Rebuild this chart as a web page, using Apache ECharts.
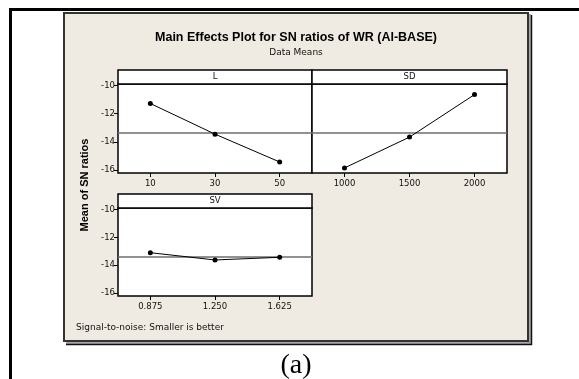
<!DOCTYPE html>
<html>
<head>
<meta charset="utf-8">
<script src="https://cdn.jsdelivr.net/npm/echarts@6/dist/echarts.min.js"></script>
<style>
html, body { margin: 0; padding: 0; background: #fff; }
#chart { width: 579px; height: 379px; }
</style>
</head>
<body>
<div id="chart"></div>
<script>
// factor levels and mean SN ratios
const levelsL = [10, 30, 50];
const snL = [-11.28, -13.45, -15.42];
const levelsSD = [1000, 1500, 2000];
const snSD = [-15.84, -13.66, -10.65];
const levelsSV = [0.875, 1.25, 1.625];
const snSV = [-13.10, -13.62, -13.43];
const yTicks = [-16, -14, -12, -10];
const panelNames = ['L', 'SD', 'SV'];

const overallMean = snL.reduce((a, b) => a + b, 0) / snL.length;

const tickFont = 'DejaVu Sans';
const grids = [
    { left: 118, top: 84, width: 194, height: 89 },
    { left: 312, top: 84, width: 195, height: 89 },
    { left: 118, top: 208, width: 194, height: 88 }
];
const xRanges = [[0, 60], [750, 2250], [0.6875, 1.8125]];
const xLevels = [levelsL, levelsSD, levelsSV];
const ySets = [snL, snSD, snSV];

const chart = echarts.init(document.getElementById('chart'), null, { renderer: 'canvas' });

const xAxes = grids.map((g, i) => ({
    type: 'value',
    gridIndex: i,
    min: xRanges[i][0],
    max: xRanges[i][1],
    axisLine: { show: false },
    splitLine: { show: false },
    axisTick: { show: true, inside: false, length: 4, customValues: xLevels[i], lineStyle: { color: '#000', width: 1 } },
    axisLabel: {
        customValues: xLevels[i],
        margin: 6,
        color: '#111',
        fontFamily: tickFont,
        fontSize: 8.5,
        formatter: i === 2 ? (v) => v.toFixed(3) : (v) => String(v)
    }
}));

const yAxes = grids.map((g, i) => ({
    type: 'value',
    gridIndex: i,
    min: -16.2,
    max: -9.9,
    show: i !== 1,
    axisLine: { show: false },
    splitLine: { show: false },
    axisTick: { show: true, inside: false, length: 4, customValues: yTicks, lineStyle: { color: '#000', width: 1 } },
    axisLabel: {
        customValues: yTicks,
        margin: 3,
        color: '#111',
        fontFamily: tickFont,
        fontSize: 8.5
    }
}));

const series = grids.map((g, i) => ({
    type: 'line',
    xAxisIndex: i,
    yAxisIndex: i,
    data: xLevels[i].map((x, k) => [x, ySets[i][k]]),
    symbol: 'circle',
    symbolSize: 5,
    itemStyle: { color: '#000' },
    lineStyle: { color: '#000', width: 1 },
    z: 5,
    markLine: {
        silent: true,
        symbol: ['none', 'none'],
        label: { show: false },
        lineStyle: { color: '#6e6e6e', width: 1.5, type: 'solid' },
        data: [{ yAxis: overallMean }]
    }
}));

// strip headers above each panel
const strips = [];
grids.forEach((g, i) => {
    strips.push({
        type: 'rect',
        shape: { x: g.left, y: g.top - 14, width: g.width, height: 14 },
        style: { fill: '#fff', stroke: '#000', lineWidth: 1.5 },
        z: 10
    });
    strips.push({
        type: 'text',
        x: g.left + g.width / 2,
        y: g.top - 7,
        style: { text: panelNames[i], align: 'center', verticalAlign: 'middle', font: '8.5px "DejaVu Sans"', fill: '#111' },
        z: 11
    });
});

const option = {
    animation: false,
    backgroundColor: '#fff',
    grid: grids.map(g => ({
        left: g.left, top: g.top, width: g.width, height: g.height,
        show: true, backgroundColor: '#fff', borderColor: '#000', borderWidth: 1.5,
        containLabel: false
    })),
    xAxis: xAxes,
    yAxis: yAxes,
    series: series,
    graphic: [
        // outer frame (top and left edge of the cell)
        {
            type: 'polyline',
            shape: { points: [[10.5, 379], [10.5, 9.5], [579, 9.5]] },
            style: { stroke: '#000', lineWidth: 3, fill: null },
            z: -20
        },
        // beige panel with shadow
        {
            type: 'polyline',
            shape: { points: [[66, 343], [530, 343], [530, 14]] },
            style: { stroke: '#8a8a8a', lineWidth: 1.5, fill: null },
            z: -12
        },
        {
            type: 'polyline',
            shape: { points: [[66, 344.5], [531.5, 344.5], [531.5, 15]] },
            style: { stroke: '#111', lineWidth: 1.5, fill: null },
            z: -12
        },
        {
            type: 'rect',
            shape: { x: 64, y: 13, width: 464, height: 328 },
            style: { fill: '#EFEBE2', stroke: '#333', lineWidth: 2 },
            z: -15
        },
        {
            type: 'text',
            x: 296, y: 38,
            style: { text: 'Main Effects Plot for SN ratios of WR (Al-BASE)', align: 'center', verticalAlign: 'middle', font: 'bold 12.5px "Liberation Sans"', fill: '#000' }
        },
        {
            type: 'text',
            x: 296, y: 53,
            style: { text: 'Data Means', align: 'center', verticalAlign: 'middle', font: '9px "DejaVu Sans"', fill: '#111' }
        },
        {
            type: 'text',
            x: 85, y: 185,
            rotation: Math.PI / 2,
            style: { text: 'Mean of SN ratios', align: 'center', verticalAlign: 'middle', font: 'bold 11px "Liberation Sans"', fill: '#000' }
        },
        {
            type: 'text',
            x: 76, y: 328,
            style: { text: 'Signal-to-noise: Smaller is better', align: 'left', verticalAlign: 'middle', font: '9px "DejaVu Sans"', fill: '#111' }
        },
        {
            type: 'text',
            x: 296, y: 366,
            style: { text: '(a)', align: 'center', verticalAlign: 'middle', font: '28px "Liberation Serif"', fill: '#000' }
        }
    ].concat(strips)
};

chart.setOption(option);
</script>
</body>
</html>
